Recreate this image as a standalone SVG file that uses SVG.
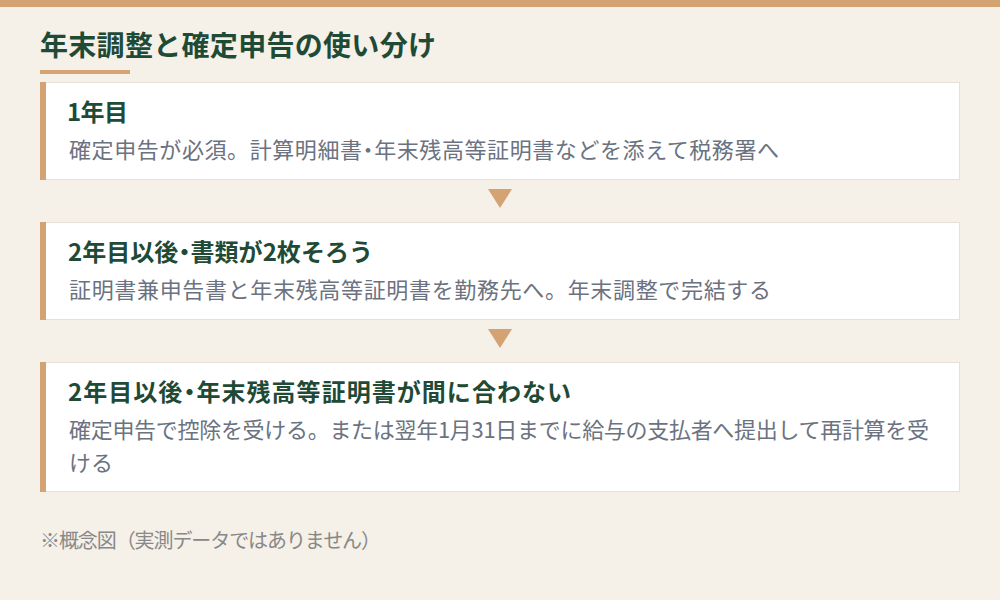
<svg xmlns="http://www.w3.org/2000/svg" width="1000" height="600" viewBox="0 0 1000 600">
  <style>
    text { font-family: "Noto Sans CJK JP", "Noto Sans", sans-serif; }
    .p { font-feature-settings: "palt" 1; }
    .title { font-size: 28px; font-weight: 700; fill: #1F4A36; }
    .card { fill: #FFFFFF; stroke: #E8E0D4; stroke-width: 1; }
    .accent { fill: #D4A373; }
    .ctitle { font-size: 24px; font-weight: 700; fill: #1F4A36; }
    .cdesc { font-size: 22px; fill: #6B7280; }
    .note { font-size: 20px; fill: #888888; }
  </style>
  <rect x="0" y="0" width="1000" height="600" fill="#F5F0E8"/>
  <rect x="0" y="0" width="1000" height="7" class="accent"/>
  <text x="40" y="56" class="title" textLength="396" lengthAdjust="spacing">年末調整と確定申告の使い分け</text>
  <rect x="40" y="70" width="90" height="4" class="accent"/>

  <g id="node-1">
    <rect x="40.5" y="82.5" width="919" height="97" class="card"/>
    <rect x="40" y="82" width="6" height="98" class="accent"/>
    <text x="67" y="121" class="ctitle" textLength="61" lengthAdjust="spacing">1年目</text>
    <text x="69" y="158" class="cdesc" textLength="710" lengthAdjust="spacing">確定申告が必須。計算明細書<tspan class="p">・</tspan>年末残高等証明書などを添えて税務署へ</text>
  </g>

  <g id="node-2">
    <rect x="40.5" y="222.5" width="919" height="97" class="card"/>
    <rect x="40" y="222" width="6" height="98" class="accent"/>
    <text x="68" y="261" class="ctitle" textLength="305" lengthAdjust="spacing">2年目以後<tspan class="p">・</tspan>書類が2枚そろう</text>
    <text x="69" y="298" class="cdesc" textLength="702" lengthAdjust="spacing">証明書兼申告書と年末残高等証明書を勤務先へ。年末調整で完結する</text>
  </g>

  <g id="node-3">
    <rect x="40.5" y="362.5" width="919" height="129" class="card"/>
    <rect x="40" y="362" width="6" height="130" class="accent"/>
    <text x="68" y="401" class="ctitle" textLength="503" lengthAdjust="spacing">2年目以後<tspan class="p">・</tspan>年末残高等証明書が間に合わない</text>
    <text x="69" y="438" class="cdesc" textLength="860" lengthAdjust="spacing">確定申告で控除を受ける。または翌年1月31日までに給与の支払者へ提出して再計算を受</text>
    <text x="69" y="471" class="cdesc">ける</text>
  </g>

  <g id="connectors">
    <polygon points="488,189 512,189 500,208" class="accent"/>
    <polygon points="488,329 512,329 500,348" class="accent"/>
  </g>

  <text x="40" y="548" class="note" textLength="341" lengthAdjust="spacing">※概念図（実測データではありません）</text>
</svg>
